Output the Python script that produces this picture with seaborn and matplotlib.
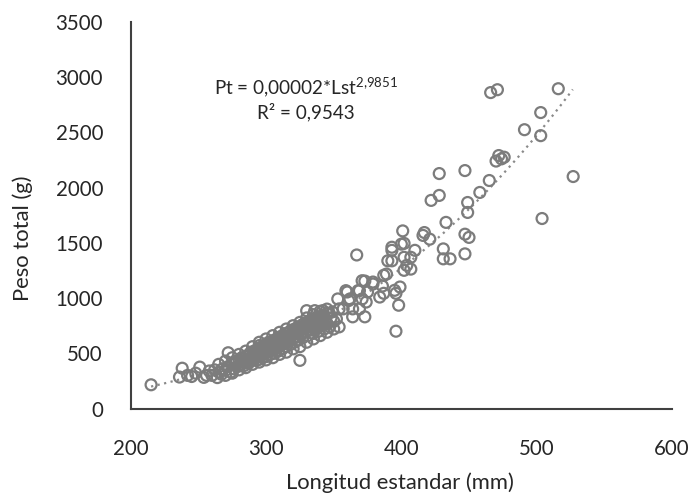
import numpy as np
import pandas as pd
import matplotlib
matplotlib.use("Agg")
import matplotlib.pyplot as plt
import seaborn as sns

# Longitud estandar (mm) and Peso total (g)
lst = [
    215, 238, 236, 242, 245, 248, 251, 254, 256, 258, 260, 262, 264, 265, 267, 268,
    270, 272, 272, 274, 275, 276, 278, 279, 280, 281, 282, 283, 284, 285, 286, 287,
    288, 288, 289, 290, 291, 291, 292, 293, 294, 294, 295, 296, 297, 297, 298, 299,
    300, 300, 301, 302, 303, 303, 304, 305, 306, 306, 307, 308, 309, 309, 310, 311,
    312, 312, 313, 314, 315, 315, 316, 317, 318, 318, 319, 320, 321, 321, 322, 323,
    324, 324, 325, 325, 326, 327, 327, 328, 329, 330, 330, 331, 332, 333, 334, 335,
    336, 336, 337, 338, 339, 340, 341, 342, 342, 343, 344, 345, 346, 347, 348, 349,
    350, 284, 290, 296, 300, 305, 310, 314, 318, 322, 326, 330, 334, 338, 277, 293,
    299, 307, 311, 316, 320, 328, 332, 337, 341, 345,
    265, 270, 275, 280, 285, 290, 295, 300, 305, 310, 315, 320, 325, 330, 335, 340, 345,
    270, 275, 280, 285, 290, 295, 300, 305, 310, 315, 320, 325, 330, 335, 340, 345, 350,
    283, 288, 293, 298, 303, 308, 313, 318, 323, 328, 333, 338, 343,
    286, 291, 296, 301, 306, 311, 316, 321, 326, 331, 336, 341,
    295, 302, 309, 317, 324, 331, 339,
    352, 353, 354, 354, 357, 359, 360, 361, 362, 364, 364, 367, 368, 369, 369, 371,
    371, 373, 373, 374, 375, 379, 379, 384, 386, 387, 387, 389, 390, 393, 393, 393,
    395, 396, 396, 398, 399, 400, 401, 402, 402, 402, 404, 407, 407, 410, 416, 417,
    421, 422, 428, 428, 431, 431, 433, 436, 447, 447, 449, 449, 450, 458, 465, 447,
    470, 472, 474, 476, 466, 471, 516, 503, 491, 503, 527, 504,
]
pt = [
    215, 365, 285, 300, 290, 320, 375, 282, 300, 340, 300, 350, 280, 330, 310, 360,
    345, 505, 380, 330, 400, 360, 420, 380, 440, 400, 460, 420, 390, 470, 440, 410,
    500, 455, 430, 480, 520, 450, 500, 470, 540, 440, 510, 480, 560, 460, 530, 500,
    580, 470, 545, 510, 600, 490, 560, 530, 620, 500, 580, 550, 640, 520, 600, 570,
    660, 540, 620, 590, 680, 560, 640, 610, 700, 580, 660, 630, 720, 600, 680, 650,
    740, 620, 700, 436, 670, 760, 640, 720, 690, 780, 886, 660, 740, 710, 800, 680,
    886, 760, 730, 820, 700, 780, 750, 886, 840, 720, 800, 770, 860, 740, 820, 875,
    790, 430, 470, 500, 530, 560, 590, 620, 650, 690, 720, 750, 790, 830, 420, 510,
    560, 600, 640, 680, 700, 740, 780, 810, 830, 860,
    400, 430, 460, 490, 520, 560, 600, 630, 660, 690, 720, 750, 780, 820, 850, 880, 900,
    300, 320, 350, 370, 400, 420, 440, 460, 490, 510, 540, 560, 600, 630, 660, 690, 720,
    450, 480, 510, 545, 575, 610, 640, 670, 700, 740, 770, 800, 830,
    420, 455, 490, 520, 555, 585, 615, 650, 680, 715, 745, 780,
    570, 600, 635, 690, 725, 760, 800,
    811, 992, 902, 739, 902, 1067, 1055, 977, 992, 902, 830, 1390, 1067, 1067, 902, 1157,
    992, 830, 1154, 964, 1055, 1145, 1127, 1009, 1109, 1206, 1043, 1217, 1337, 1460, 1337, 1432,
    1070, 1043, 700, 935, 1100, 1488, 1608, 1495, 1369, 1251, 1296, 1369, 1262, 1432, 1567, 1593,
    1533, 1884, 1929, 2127, 1445, 1355, 1685, 1355, 1400, 2154, 1775, 1865, 1549, 1956, 2064, 1578,
    2240, 2290, 2260, 2275, 2860, 2886, 2895, 2679, 2524, 2470, 2100, 1720,
]

# fitted power trend (Excel-style), coefficients of the displayed equation
fit_a = 2.17e-5
fit_b = 2.9851
trend_x = [215, 526.7]

df = pd.DataFrame({"lst": lst, "pt": pt})

sns.set_theme(style="white")
plt.rcParams["font.family"] = ["Lato", "DejaVu Sans"]
plt.rcParams["mathtext.fontset"] = "custom"
plt.rcParams["mathtext.rm"] = "Lato"

fig = plt.figure(figsize=(6.92, 4.97), dpi=100)
ax = fig.add_axes([0.189, 0.178, 0.782, 0.778])

tx = np.linspace(trend_x[0], trend_x[1], 200)
trend = pd.DataFrame({"x": tx, "y": fit_a * tx ** fit_b})
sns.lineplot(data=trend, x="x", y="y", ax=ax, color="#8a8a8a",
             linestyle=(0, (1, 2)), linewidth=1.6, zorder=1)

sns.scatterplot(data=df, x="lst", y="pt", ax=ax, marker="o", s=62,
                facecolor="none", edgecolor="#7c7c7c", linewidth=1.6, zorder=2)

ax.set_xlim(200, 600)
ax.set_ylim(0, 3500)
ax.set_xticks([200, 300, 400, 500, 600])
ax.set_yticks([0, 500, 1000, 1500, 2000, 2500, 3000, 3500])
ax.tick_params(axis="both", length=0, labelsize=14.8, colors="#262626")
ax.tick_params(axis="y", pad=20)
ax.tick_params(axis="x", pad=22)

for s in ["top", "right"]:
    ax.spines[s].set_visible(False)
for s in ["left", "bottom"]:
    ax.spines[s].set_color("#404040")
    ax.spines[s].set_linewidth(1.5)

ax.set_xlabel("Longitud estandar (mm)", fontsize=15.8, color="#262626")
ax.set_ylabel("Peso total (g)", fontsize=15.8, color="#262626")
ax.xaxis.set_label_coords(0.497, -0.165)
ax.yaxis.set_label_coords(-0.18, 0.44)

ax.text(329.5, 2904, r"Pt = 0,00002*Lst$^{\mathregular{2{,}9851}}$", fontsize=13.6,
        ha="center", va="center", color="#262626")
ax.text(329.5, 2687, "R² = 0,9543", fontsize=13.6, ha="center", va="center",
        color="#262626")

fig.savefig("out.png", dpi=100)
